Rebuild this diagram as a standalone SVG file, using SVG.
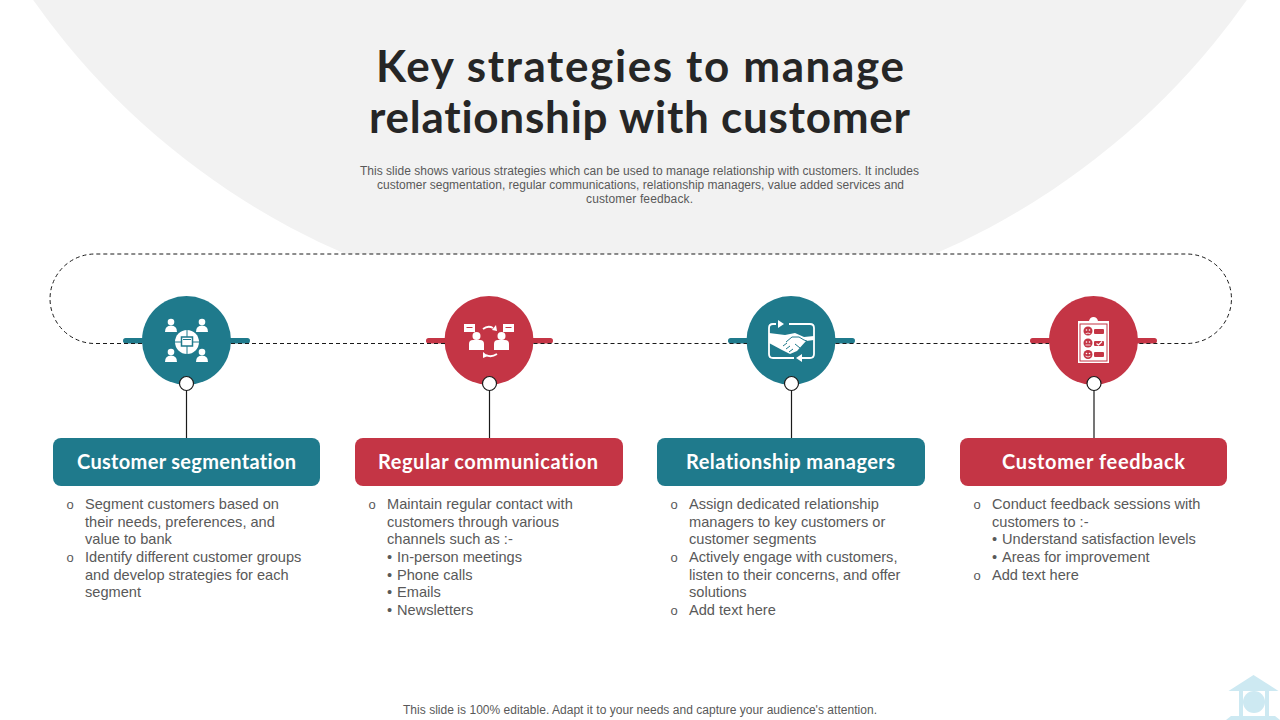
<svg xmlns="http://www.w3.org/2000/svg" width="1280" height="720" viewBox="0 0 1280 720">
<defs>
<style>
.title{font:700 44px Lato,"Open Sans",sans-serif;fill:#262626;text-anchor:middle;font-variant-ligatures:none}
.sub{font:12px "Liberation Sans",Arial,sans-serif;fill:#595959;text-anchor:middle}
.head{font:700 20px Lato,"Open Sans",sans-serif;fill:#fff;text-anchor:middle;font-variant-ligatures:none}
.body{font:14.6px "Liberation Sans",Arial,sans-serif;fill:#595959}
.bul{font:13px "Liberation Sans",Arial,sans-serif;fill:#595959}
.teal{fill:#1f7a8c}.red{fill:#c43545}
.stem{stroke:#1a1a1a;stroke-width:1.2;fill:none}
.knob{fill:#fff;stroke:#1a1a1a;stroke-width:1.2}
.w{fill:#fff}.wl{fill:none;stroke:#fff;stroke-width:1.8}
.tl{fill:none;stroke:#1f7a8c;stroke-width:1}
.rl{fill:none;stroke:#c43545;stroke-width:1}
.dash{fill:none;stroke:#1a1a1a;stroke-width:1;stroke-dasharray:4 3}
</style>
</defs>
<rect width="1280" height="720" fill="#fff"/>
<circle cx="640" cy="-427" r="742" fill="#f2f2f2"/>
<rect x="50" y="254" width="1181.500" height="89.500" rx="45" fill="#fff"/>
<text class="title" x="640" y="82" textLength="528" lengthAdjust="spacing">Key strategies to manage</text>
<text class="title" x="639.500" y="133" textLength="541" lengthAdjust="spacing">relationship with customer</text>
<g id="subtitle">
<text class="sub" x="639.500" y="175" textLength="559" lengthAdjust="spacing">This slide shows various strategies which can be used to manage relationship with customers. It includes</text>
<text class="sub" x="640.500" y="189" textLength="527" lengthAdjust="spacing">customer segmentation, regular communications, relationship managers, value added services and</text>
<text class="sub" x="639.500" y="203" textLength="107" lengthAdjust="spacing">customer feedback.</text>
</g>

<g id="node1">
<rect class="teal" x="123" y="338" width="127" height="5.500" rx="2.700"/>
<circle class="teal" cx="186.500" cy="340.500" r="44.500"/>
<path class="stem" d="M186.500 388V438"/><circle class="knob" cx="186.500" cy="383.500" r="7"/>
<g class="w">
<circle cx="171" cy="322" r="3.300"/><path d="M165 332q0-6.500 6-6.500t6 6.500z"/>
<circle cx="202" cy="322" r="3.300"/><path d="M196 332q0-6.500 6-6.500t6 6.500z"/>
<circle cx="171" cy="352" r="3.300"/><path d="M165 362q0-6.500 6-6.500t6 6.500z"/>
<circle cx="202" cy="352" r="3.300"/><path d="M196 362q0-6.500 6-6.500t6 6.500z"/>
<circle cx="187" cy="342" r="12"/>
</g>
<path class="tl" d="M175 342h24M187 330v24"/>
<rect x="181.500" y="337" width="11" height="9" fill="#fff" stroke="#1f7a8c" stroke-width="1.500"/>
<path class="tl" d="M183 339.500h8"/>
<rect class="teal" x="53" y="438" width="267" height="48" rx="8"/>
<text class="head" x="186.500" y="469" textLength="219" lengthAdjust="spacing">Customer segmentation</text>
<text class="bul" x="66.500" y="509">o</text><text class="bul" x="66.500" y="562">o</text>
<text class="body" x="85" y="509">Segment customers based on</text>
<text class="body" x="85" y="527">their needs, preferences, and</text>
<text class="body" x="85" y="544">value to bank</text>
<text class="body" x="85" y="562">Identify different customer groups</text>
<text class="body" x="85" y="580">and develop strategies for each</text>
<text class="body" x="85" y="597">segment</text>
</g>

<g id="node2">
<rect class="red" x="426" y="338" width="127" height="5.500" rx="2.700"/>
<circle class="red" cx="489" cy="340.500" r="44.500"/>
<path class="stem" d="M489.500 388V438"/><circle class="knob" cx="489.500" cy="383.500" r="7"/>
<g class="w">
<rect x="464" y="324" width="11" height="8"/><rect x="503" y="324" width="11" height="8"/>
<circle cx="476.500" cy="336" r="4"/><path d="M469 350v-6q0-4 4-4h7q4 0 4 4v6z"/>
<circle cx="501.500" cy="336" r="4"/><path d="M494 350v-6q0-4 4-4h7q4 0 4 4v6z"/>
</g>
<path class="rl" d="M466.500 327.500h6M505.500 327.500h6"/>
<path class="wl" d="M483 329q5-4 10-1M497 354q-6 4-11 1"/>
<path class="w" d="M496 325l1 6-5-1zM483 352l0 6 5-2z"/>
<rect class="red" x="355" y="438" width="268" height="48" rx="8"/>
<text class="head" x="488" y="469" textLength="220" lengthAdjust="spacing">Regular communication</text>
<text class="bul" x="368.500" y="509">o</text>
<text class="body" x="387" y="509">Maintain regular contact with</text>
<text class="body" x="387" y="527">customers through various</text>
<text class="body" x="387" y="544">channels such as :-</text>
<text class="body" x="387" y="562">•<tspan x="397">In-person meetings</tspan></text>
<text class="body" x="387" y="580">•<tspan x="397">Phone calls</tspan></text>
<text class="body" x="387" y="597">•<tspan x="397">Emails</tspan></text>
<text class="body" x="387" y="615">•<tspan x="397">Newsletters</tspan></text>
</g>

<g id="node3">
<rect class="teal" x="728" y="338" width="127" height="5.500" rx="2.700"/>
<circle class="teal" cx="791" cy="340.500" r="44.500"/>
<path class="stem" d="M791.500 388V438"/><circle class="knob" cx="791.500" cy="383.500" r="7"/>
<path class="wl" d="M776 324h-3q-4 0-4 4v26q0 4 4 4h21M789 324h21q4 0 4 4v26q0 4-4 4h-8"/>
<path class="w" d="M778 320l6 4-6 4zM802 354l-6 4 6 4z"/>
<path class="w" d="M769 333L785 335L795 333L804 337L814 336V340L806 341L797 351L790 354L782 350L769 343Z"/>
<path class="tl" d="M786 342l6-5h7l5 3 3 1M783 346l4-3M786 349l4-3M789 352l4-3M795 344l5 4"/>
<rect class="teal" x="657" y="438" width="268" height="48" rx="8"/>
<text class="head" x="790.500" y="469" textLength="209" lengthAdjust="spacing">Relationship managers</text>
<text class="bul" x="670.500" y="509">o</text><text class="bul" x="670.500" y="562">o</text><text class="bul" x="670.500" y="615">o</text>
<text class="body" x="689" y="509">Assign dedicated relationship</text>
<text class="body" x="689" y="527">managers to key customers or</text>
<text class="body" x="689" y="544">customer segments</text>
<text class="body" x="689" y="562">Actively engage with customers,</text>
<text class="body" x="689" y="580">listen to their concerns, and offer</text>
<text class="body" x="689" y="597">solutions</text>
<text class="body" x="689" y="615">Add text here</text>
</g>

<g id="node4">
<rect class="red" x="1030" y="338" width="127" height="5.500" rx="2.700"/>
<circle class="red" cx="1093.500" cy="340.500" r="44.500"/>
<path class="stem" d="M1094 388V438"/><circle class="knob" cx="1094" cy="383.500" r="7"/>
<path class="w" d="M1078 321h11q1-4 4.500-4t4.500 4h11v42h-31z"/>
<rect class="rl" x="1080" y="324" width="27" height="37"/>
<g class="red">
<circle cx="1088" cy="331" r="4.500"/><circle cx="1088" cy="343" r="4.500"/><circle cx="1088" cy="354.500" r="4.500"/>
<rect x="1094" y="329" width="10" height="5" rx="1"/><rect x="1094" y="341" width="10" height="5" rx="1"/><rect x="1094" y="352" width="10" height="5" rx="1"/>
</g>
<g class="w">
<circle cx="1086.500" cy="330" r=".8"/><circle cx="1089.500" cy="330" r=".8"/>
<circle cx="1086.500" cy="342" r=".8"/><circle cx="1089.500" cy="342" r=".8"/>
<circle cx="1086.500" cy="353.500" r=".8"/><circle cx="1089.500" cy="353.500" r=".8"/>
</g>
<path d="M1085.500 334q2.500-2 5 0M1085.500 345h5M1085.500 356q2.500 2 5 0" fill="none" stroke="#fff" stroke-width=".8"/>
<path d="M1096.500 343.500l2 1.500 3.500-3.500" fill="none" stroke="#fff" stroke-width="1.200"/>
<rect class="red" x="960" y="438" width="267" height="48" rx="8"/>
<text class="head" x="1093.500" y="469" textLength="183" lengthAdjust="spacing">Customer feedback</text>
<text class="bul" x="973.500" y="509">o</text><text class="bul" x="973.500" y="580">o</text>
<text class="body" x="992" y="509">Conduct feedback sessions with</text>
<text class="body" x="992" y="527">customers to :-</text>
<text class="body" x="992" y="544">•<tspan x="1002">Understand satisfaction levels</tspan></text>
<text class="body" x="992" y="562">•<tspan x="1002">Areas for improvement</tspan></text>
<text class="body" x="992" y="580">Add text here</text>
</g>

<g id="connectors">
<path class="dash" d="M142 343.500H95A45 44.750 0 0 1 95 254H1186.500A45 44.750 0 0 1 1186.500 343.500H1138"/>
<path class="dash" d="M231 343.500H445M533.500 343.500H747M835.500 343.500H1049"/>
</g>

<text class="sub" x="640" y="714" textLength="474" lengthAdjust="spacing">This slide is 100% editable. Adapt it to your needs and capture your audience's attention.</text>
<g id="home" fill="#cde9f2">
<path d="M1253.500 675l25 16h-50z"/>
<path d="M1239 691h4v25h-4zM1265 691h4v25h-4z"/>
<circle cx="1254" cy="702" r="11"/>
<path d="M1226 720l5-4h44l5 4z"/>
</g>
</svg>
